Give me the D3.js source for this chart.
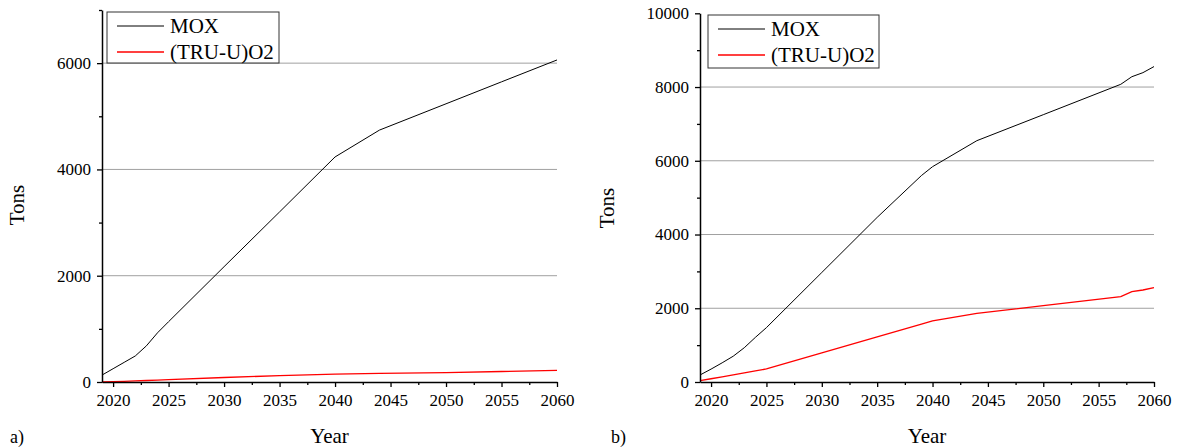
<!DOCTYPE html>
<html>
<head>
<meta charset="utf-8">
<script src="https://cdn.jsdelivr.net/npm/d3@7"></script>
<style>
  html, body { margin: 0; padding: 0; background: #fff; }
  svg { display: block; }
  svg text { font-family: "Liberation Serif", "DejaVu Serif", serif !important; }
</style>
</head>
<body>
<svg id="chart" width="1177" height="448"></svg>
<script>
// ---- Data ----
const seriesNames = ["MOX", "(TRU-U)O2"];
const seriesColors = ["#000000", "#ff0000"];

// Panel a)
const yearsA = [2019, 2020, 2021, 2022, 2023, 2024, 2025, 2030, 2035, 2040, 2044, 2050, 2055, 2060];
const moxA   = [130, 250, 370, 490, 680, 925, 1135, 2170, 3200, 4235, 4740, 5235, 5648, 6060];
const truA   = [0, 5, 12, 20, 28, 37, 45, 85, 120, 148, 162, 178, 198, 220];
const yTicksA = [0, 2000, 4000, 6000];
const yMinorA = [1000, 3000, 5000, 7000];
const gridA   = [2000, 4000, 6000];

// Panel b)
const yearsB = [2019, 2020, 2021, 2022, 2023, 2024, 2025, 2030, 2035, 2039, 2040, 2044, 2050, 2057, 2058, 2059, 2060];
const moxB   = [190, 350, 520, 700, 930, 1210, 1475, 2970, 4465, 5600, 5840, 6545, 7250, 8074, 8280, 8390, 8555];
const truB   = [35, 88, 141, 194, 247, 300, 353, 790, 1225, 1573, 1660, 1863, 2070, 2314, 2450, 2495, 2558];
const yTicksB = [0, 2000, 4000, 6000, 8000, 10000];
const yMinorB = [1000, 3000, 5000, 7000, 9000];
const gridB   = [2000, 4000, 6000, 8000];

const xTicks = [2020, 2025, 2030, 2035, 2040, 2045, 2050, 2055, 2060];
const xMinor = [2022.5, 2027.5, 2032.5, 2037.5, 2042.5, 2047.5, 2052.5, 2057.5];

const FONT = "Liberation Serif";
const svg = d3.select("#chart");

function panel(cfg) {
  const g = svg.append("g").attr("font-family", FONT);
  const x = d3.scaleLinear().domain([2019, 2060]).range([cfg.x0, cfg.x1]);
  const y = d3.scaleLinear().domain([0, cfg.yMax]).range([cfg.yb, cfg.yt]);

  // gridlines
  g.append("g").selectAll("line").data(cfg.grid).join("line")
    .attr("x1", cfg.x0).attr("x2", cfg.x1)
    .attr("y1", d => y(d)).attr("y2", d => y(d))
    .attr("stroke", "#a0a0a0").attr("stroke-width", 1);

  // series lines
  const line = d3.line().x(d => x(d[0])).y(d => y(d[1]));
  cfg.series.forEach((vals, i) => {
    g.append("path")
      .datum(cfg.years.map((yr, k) => [yr, vals[k]]))
      .attr("d", line)
      .attr("fill", "none")
      .attr("stroke", seriesColors[i])
      .attr("stroke-width", i === 0 ? 1 : 1.3);
  });

  // x axis (major + minor)
  g.append("g").attr("transform", `translate(0,${cfg.yb})`)
    .call(d3.axisBottom(x).tickValues(xTicks).tickFormat(d3.format("d")).tickSize(5).tickPadding(7).tickSizeOuter(0))
    .attr("font-family", FONT).attr("font-size", 17);
  g.append("g").attr("transform", `translate(0,${cfg.yb})`)
    .call(d3.axisBottom(x).tickValues(xMinor).tickFormat("").tickSize(3).tickSizeOuter(0))
    .select(".domain").remove();
  // y axis (major + minor)
  g.append("g").attr("transform", `translate(${cfg.x0},0)`)
    .call(d3.axisLeft(y).tickValues(cfg.yTicks).tickFormat(d3.format("d")).tickSize(5).tickPadding(6).tickSizeOuter(0))
    .attr("font-family", FONT).attr("font-size", 17);
  g.append("g").attr("transform", `translate(${cfg.x0},0)`)
    .call(d3.axisLeft(y).tickValues(cfg.yMinor).tickFormat("").tickSize(3).tickSizeOuter(0))
    .select(".domain").remove();

  g.selectAll(".domain").attr("stroke", "#000").attr("stroke-width", 1.5);
  g.selectAll(".tick line").attr("stroke", "#000").attr("stroke-width", 1.3);
  g.selectAll(".tick text").attr("fill", "#000");

  // legend
  const lg = g.append("g");
  lg.append("rect").attr("x", cfg.lx).attr("y", cfg.ly).attr("width", cfg.lw).attr("height", cfg.lh)
    .attr("fill", "#fff").attr("stroke", "#333").attr("stroke-width", 1);
  seriesNames.forEach((name, i) => {
    const cy = cfg.ly + 14 + i * 26;
    lg.append("line").attr("x1", cfg.lx + 10).attr("x2", cfg.lx + 57)
      .attr("y1", cy).attr("y2", cy)
      .attr("stroke", seriesColors[i]).attr("stroke-width", i === 0 ? 1 : 1.3);
    lg.append("text").attr("x", cfg.lx + 63).attr("y", cy + 7)
      .attr("font-family", FONT).attr("font-size", 21).attr("fill", "#000").text(name);
  });

  // axis titles
  g.append("text").attr("x", (cfg.x0 + cfg.x1) / 2).attr("y", 443)
    .attr("text-anchor", "middle").attr("font-family", FONT).attr("font-size", 21).text("Year");
  g.append("text")
    .attr("transform", `translate(${cfg.tonsX},${cfg.tonsY}) rotate(-90)`)
    .attr("text-anchor", "middle").attr("font-family", FONT).attr("font-size", 21).text("Tons");
  g.append("text").attr("x", cfg.tagX).attr("y", 443)
    .attr("font-family", FONT).attr("font-size", 18).text(cfg.tag);
}

panel({
  x0: 102, x1: 557, yb: 382, yt: 10, yMax: 7000,
  years: yearsA, series: [moxA, truA],
  yTicks: yTicksA, yMinor: yMinorA, grid: gridA,
  lx: 107, ly: 12, lw: 172, lh: 51,
  tonsX: 24, tonsY: 205, tag: "a)", tagX: 10
});

panel({
  x0: 700, x1: 1154, yb: 382, yt: 13.3, yMax: 10000,
  years: yearsB, series: [moxB, truB],
  yTicks: yTicksB, yMinor: yMinorB, grid: gridB,
  lx: 708, ly: 15, lw: 171, lh: 53,
  tonsX: 614, tonsY: 208, tag: "b)", tagX: 611
});
</script>
</body>
</html>
